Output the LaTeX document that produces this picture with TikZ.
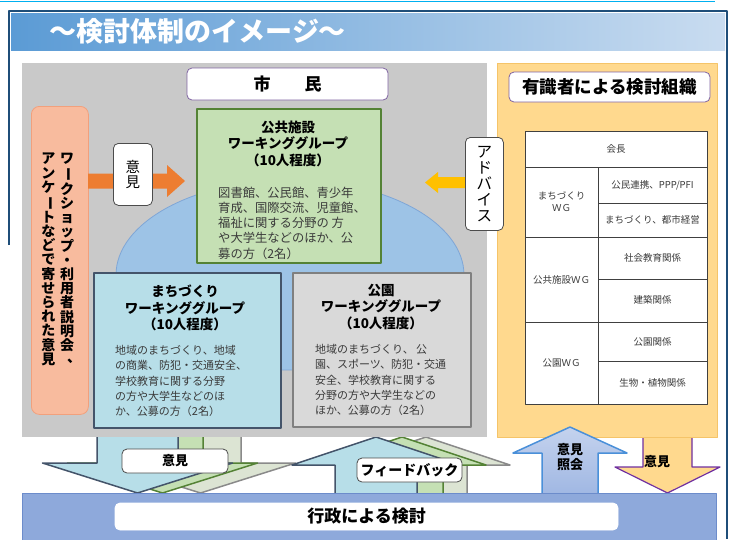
\documentclass[tikz,border=0pt]{standalone}
\usepackage{fontspec}
\setmainfont{Noto Sans CJK JP}
\usepackage{graphicx}
\definecolor{topline}{HTML}{00B0F0}
\definecolor{frameblue}{HTML}{1F4E79}
\definecolor{titleL}{HTML}{5B9BD5}
\definecolor{titleR}{HTML}{C9DCF0}
\definecolor{panelgray}{HTML}{C9C9C9}
\definecolor{orbox}{HTML}{F8BB9E}
\definecolor{orboxD}{HTML}{F2A07C}
\definecolor{orarrow}{HTML}{ED7D31}
\definecolor{gold}{HTML}{FFC000}
\definecolor{ellfill}{HTML}{9DC3E6}
\definecolor{ellD}{HTML}{7FA6D6}
\definecolor{kgreen}{HTML}{C5E0B4}
\definecolor{kgreenD}{HTML}{548235}
\definecolor{mblue}{HTML}{B7DEE8}
\definecolor{mblueD}{HTML}{44546A}
\definecolor{park}{HTML}{D9D9D9}
\definecolor{parkD}{HTML}{808080}
\definecolor{ypanel}{HTML}{FFD98E}
\definecolor{ypanelD}{HTML}{F5C469}
\definecolor{purp}{HTML}{8064A2}
\definecolor{bandfill}{HTML}{8EA9DB}
\definecolor{bandD}{HTML}{6C8CCB}
\definecolor{garrow}{HTML}{DCE4D3}
\definecolor{garrowD}{HTML}{8A8A8A}
\definecolor{shoukai}{HTML}{9DB5E2}
\definecolor{shoukaiD}{HTML}{4A90D9}
\definecolor{yarrowD}{HTML}{7030A0}
\definecolor{bodytext}{HTML}{3A3A3A}
\newcommand{\vchou}{\rotatebox[origin=c]{-90}{ー}}
\newcommand{\vten}{\smash{\makebox[1em][l]{\hspace{0.5em}\raisebox{0.15em}{、}}}}
\tikzset{
  wgbox/.style={line width=2, inner sep=0},
  wgtitle/.style={font=\bfseries\fontsize{13.5}{16.5}\selectfont, align=center, inner sep=0},
  wgbody/.style={font=\fontsize{11}{15.4}\selectfont, align=left, inner sep=0, text=bodytext, anchor=west},
  whitelbl/.style={draw=#1, fill=white, rounded corners=5, line width=0.8, inner sep=0},
  tbl/.style={draw=black!75, line width=0.7},
  tbltext/.style={font=\fontsize{9.5}{12}\selectfont, text=bodytext, align=center, inner sep=0},
  arrtext/.style={font=\bfseries\fontsize{13}{15}\selectfont, align=center, inner sep=0},
}
\begin{document}
\begin{tikzpicture}[x=1pt,y=-1pt,line join=round]
\useasboundingbox (0,0) rectangle (731,539);
\fill[white] (0,0) rectangle (731,539);
% top line and frame
\draw[topline, line width=1.5] (0,1.5) -- (715,1.5);
\draw[frameblue, line width=2] (9,245) -- (9,11) -- (727,11) -- (727,539);
% title bar
\shade[left color=titleL, right color=titleR] (11,13) rectangle (725,50);
\node[anchor=west, text=white, font=\bfseries\fontsize{27}{27}\selectfont] (title) at (46,31) {～検討体制のイメージ～};

% ---- bottom-left down arrows (意見) ----
\draw[fill=garrow, draw=garrowD, line width=1.5] (160,430) -- (160,463) -- (105.5,463) -- (200.5,493) -- (295.5,463) -- (241,463) -- (241,430) -- cycle;
\draw[fill=kgreen, draw=kgreenD, line width=1.5] (122,430) -- (122,463) -- (67.5,463) -- (162.5,493) -- (257.5,463) -- (203,463) -- (203,430) -- cycle;
\draw[fill=mblue, draw=mblueD, line width=1.5] (97,430) -- (97,463) -- (42.5,463) -- (137.5,493) -- (232.5,463) -- (178,463) -- (178,430) -- cycle;
% ---- feedback up arrows ----
\draw[fill=garrow, draw=garrowD, line width=1.5] (385,500) -- (385,465) -- (342,465) -- (426,437) -- (510,465) -- (467,465) -- (467,500) -- cycle;
\draw[fill=kgreen, draw=kgreenD, line width=1.5] (361,500) -- (361,465) -- (318,465) -- (402,437) -- (486,465) -- (443,465) -- (443,500) -- cycle;
\draw[fill=mblue, draw=mblueD, line width=1.5] (335,500) -- (335,465) -- (292,465) -- (376,437) -- (460,465) -- (417,465) -- (417,500) -- cycle;
% ---- yellow down arrow (意見) ----
\draw[fill=ypanel, draw=yarrowD, line width=1.2] (643,430) -- (643,467) -- (615,467) -- (667.5,493) -- (720,467) -- (692,467) -- (692,430) -- cycle;

% ---- citizens panel ----
\fill[panelgray] (22,63) rectangle (487,437);
\draw[fill=ellfill, draw=ellD, line width=0.8] (290,275) ellipse [x radius=174, y radius=95];

% left orange box with vertical text
\node[draw=orboxD, fill=orbox, rounded corners=8, line width=0.8, minimum width=57, minimum height=308, anchor=north west, inner sep=0] (enq) at (31,106) {};
\node[font=\bfseries\fontsize{14}{14.2}\selectfont, align=center, anchor=north, inner sep=0] (enqR) at (67,153)
  {ワ\\\vchou\\ク\\シ\\ョ\\ッ\\プ\\・\\利\\用\\者\\説\\明\\会\\\vten};
\node[font=\bfseries\fontsize{14}{14.2}\selectfont, align=center, anchor=north, inner sep=0] (enqL) at (48.5,153)
  {ア\\ン\\ケ\\\vchou\\ト\\な\\ど\\で\\寄\\せ\\ら\\れ\\た\\意\\見};

% orange arrow
\fill[orarrow] (88,173.5) -- (167,173.5) -- (167,165) -- (185,181) -- (167,197) -- (167,188.5) -- (88,188.5) -- cycle;
\node[whitelbl=black!70, minimum width=39, minimum height=62, anchor=north west] (iken1) at (113,143) {};
\node[font=\fontsize{14.5}{15}\selectfont, align=center, inner sep=0] at (iken1.center) {意\\見};

% gold arrow
\fill[gold] (515,177) -- (438,177) -- (438,172) -- (425,182.5) -- (438,193) -- (438,188) -- (515,188) -- cycle;

% 市民
\node[whitelbl=purp, minimum width=201, minimum height=32] (shimin) at (287.5,84) {};
\node[font=\bfseries\fontsize{17}{17}\selectfont, inner sep=0] at (shimin.center) {市　　民};

% 公共施設 WG
\node[wgbox, fill=kgreen, draw=kgreenD, minimum width=184, minimum height=154, anchor=north west] (kokyo) at (196,108) {};
\node[wgtitle] (kokyoT) at (288,143.5) {公共施設\\ワーキンググループ\\（10人程度）};
\node[wgbody, font=\fontsize{12.3}{15.2}\selectfont] (kokyoB) at (218,223) {図書館、公民館、青少年\\育成、国際交流、児童館、\\福祉に関する分野の 方\\や大学生などのほか、公\\募の方（2名）};

% まちづくり WG
\node[wgbox, fill=mblue, draw=mblueD, minimum width=187, minimum height=155, anchor=north west] (machi) at (93,272) {};
\node[wgtitle] (machiT) at (185,308) {まちづくり\\ワーキンググループ\\（10人程度）};
\node[wgbody] (machiB) at (115,381) {地域のまちづくり、地域\\の商業、防犯・交通安全、\\学校教育に関する分野\\の方や大学生などのほ\\か、公募の方（2名）};

% 公園 WG
\node[wgbox, fill=park, draw=parkD, minimum width=178, minimum height=154, anchor=north west] (koen) at (292,272) {};
\node[wgtitle] (koenT) at (381,307) {公園\\ワーキンググループ\\（10人程度）};
\node[wgbody] (koenB) at (315,380) {地域のまちづくり、 公\\園、スポーツ、防犯・交通\\安全、学校教育に関する\\分野の方や大学生などの\\ほか、公募の方（2名）};

% ---- expert panel ----
\draw[fill=ypanel, draw=ypanelD, line width=0.8] (497,63) rectangle (717,437);
\node[whitelbl=purp, minimum width=201, minimum height=30] (expert) at (609.5,87) {};
\node[font=\bfseries\fontsize{17.5}{18}\selectfont, inner sep=0] at (expert.center) {有識者による検討組織};

% アドバイス label
\node[whitelbl=black!70, minimum width=38, minimum height=93, anchor=north west] (advice) at (465,137) {};
\node[font=\fontsize{15.5}{16}\selectfont, align=center, inner sep=0] at (advice.center) {ア\\ド\\バ\\イ\\ス};

% table
\fill[white] (525,131) rectangle (707,404);
\draw[tbl] (525,131) rectangle (707,404);
\draw[tbl] (525,167) -- (707,167);
\draw[tbl] (525,237) -- (707,237);
\draw[tbl] (525,322) -- (707,322);
\draw[tbl] (598,167) -- (598,404);
\draw[tbl] (598,203) -- (707,203);
\draw[tbl] (598,279) -- (707,279);
\draw[tbl] (598,361) -- (707,361);
\node[tbltext] at (616,149) {会長};
\node[tbltext] at (561.5,202) {まちづくり\\ＷＧ};
\node[tbltext] at (652.5,185) {公民連携、PPP/PFI};
\node[tbltext] at (652.5,220) {まちづくり、都市経営};
\node[tbltext] at (561.5,279.5) {公共施設ＷＧ};
\node[tbltext] at (652.5,258) {社会教育関係};
\node[tbltext] at (652.5,300) {建築関係};
\node[tbltext] at (561.5,363) {公園ＷＧ};
\node[tbltext] at (652.5,341.5) {公園関係};
\node[tbltext] at (652.5,383) {生物・植物関係};

% 意見照会 up arrow
\draw[draw=shoukaiD, line width=1.5, top color=shoukai!60!white, bottom color=shoukai] (542,500) -- (542,453) -- (513,453) -- (570,427) -- (627,453) -- (598,453) -- (598,500) -- cycle;
\node[arrtext] (shoukaiT) at (570,457.5) {意見\\照会};
\node[arrtext] (iken3) at (657,462) {意見};

% ---- bottom band ----
\draw[fill=bandfill, draw=bandD, line width=1] (22,493) rectangle (716,541);
\node[whitelbl=white, minimum width=503, minimum height=27] (gyosei) at (366.5,516.5) {};
\node[font=\bfseries\fontsize{17}{17}\selectfont, inner sep=0] at (gyosei.center) {行政による検討};

% arrow labels
\node[whitelbl=black!70, minimum width=106, minimum height=24] (iken2) at (175,461) {};
\node[arrtext] at (iken2.center) {意見};
\node[whitelbl=black!70, minimum width=105, minimum height=24] (fb) at (409.5,470) {};
\node[font=\bfseries\fontsize{14}{14}\selectfont, inner sep=0] at (fb.center) {フィードバック};
\end{tikzpicture}
\end{document}
